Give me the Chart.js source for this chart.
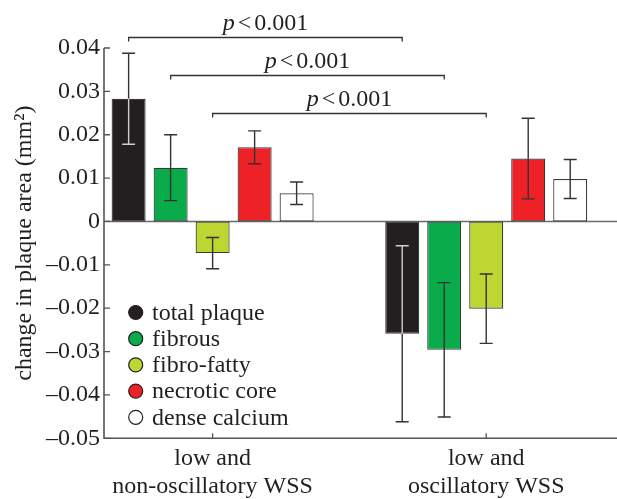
<!DOCTYPE html>
<html>
<head>
<meta charset="utf-8">
<script src="https://cdn.jsdelivr.net/npm/chart.js@4/dist/chart.umd.min.js"></script>
<style>
html,body{margin:0;padding:0;background:#fff;}
#wrap{width:617px;height:499px;position:relative;}
</style>
</head>
<body>
<div id="wrap"><canvas id="c"></canvas></div>
<script>
// ---- data ----
const categories = [['low and', 'non-oscillatory WSS'], ['low and', 'oscillatory WSS']];
const seriesNames = ['total plaque', 'fibrous', 'fibro-fatty', 'necrotic core', 'dense calcium'];
const totalPlaque = [0.0283, -0.0259];
const totalPlaqueErr = [0.0105, 0.0203];
const fibrous = [0.0124, -0.0296];
const fibrousErr = [0.0076, 0.0155];
const fibroFatty = [-0.0073, -0.0201];
const fibroFattyErr = [0.0036, 0.0080];
const necroticCore = [0.0171, 0.0145];
const necroticCoreErr = [0.0038, 0.0093];
const denseCalcium = [0.0065, 0.0098];
const denseCalciumErr = [0.0026, 0.0045];
const yMin = -0.05, yMax = 0.04, yStep = 0.01;
const comparisonSeries = [0, 1, 2];
const comparisonLabels = ['0.001', '0.001', '0.001'];

// ---- styles ----
const colors = ['#231f20', '#0aab4b', '#bdd631', '#ed2126', '#ffffff'];
const values = [totalPlaque, fibrous, fibroFatty, necroticCore, denseCalcium];
const errors = [totalPlaqueErr, fibrousErr, fibroFattyErr, necroticCoreErr, denseCalciumErr];
const FONT = '"Liberation Serif", "Times New Roman", serif';
const INK = '#231f20';
const bracketLevels = [0.0425, 0.0338, 0.0251];

const datasets = seriesNames.map((name, i) => ({
  label: name,
  data: values[i].map((v, j) => ({x: j, y: v})),
  backgroundColor: colors[i],
  borderColor: '#3a3a3a',
  borderWidth: 1.2,
  borderSkipped: false,
  categoryPercentage: 0.7675,
  barPercentage: 0.81
}));

const custom = {
  id: 'custom',
  beforeDatasetsDraw(chart) {
    const {ctx, chartArea: a, scales: {y}} = chart;
    ctx.save();
    ctx.strokeStyle = '#6b6b6b';
    ctx.lineWidth = 1.6;
    const y0 = y.getPixelForValue(0);
    ctx.beginPath(); ctx.moveTo(a.left, y0); ctx.lineTo(a.right, y0); ctx.stroke();
    ctx.restore();
  },
  afterDatasetsDraw(chart) {
    const {ctx, chartArea: a, scales: {x, y}} = chart;
    ctx.save();
    // error bars
    chart.data.datasets.forEach((ds, i) => {
      const meta = chart.getDatasetMeta(i);
      meta.data.forEach((el, j) => {
        const v = values[i][j], e = errors[i][j];
        const cx = el.x;
        const pHi = y.getPixelForValue(v + e), pLo = y.getPixelForValue(v - e), pV = y.getPixelForValue(v);
        const outer = v >= 0 ? pHi : pLo;
        const inner = v >= 0 ? pLo : pHi;
        const innerColor = i === 0 ? '#cfcfcf' : '#333';
        ctx.lineWidth = 1.4;
        ctx.strokeStyle = '#333';
        ctx.beginPath(); ctx.moveTo(cx, pV); ctx.lineTo(cx, outer);
        ctx.moveTo(cx - 6.5, outer); ctx.lineTo(cx + 6.5, outer); ctx.stroke();
        ctx.strokeStyle = innerColor;
        ctx.beginPath(); ctx.moveTo(cx, pV); ctx.lineTo(cx, inner);
        ctx.moveTo(cx - 6.5, inner); ctx.lineTo(cx + 6.5, inner); ctx.stroke();
      });
    });
    // axes
    ctx.strokeStyle = '#555';
    ctx.lineWidth = 1.6;
    ctx.beginPath();
    ctx.moveTo(a.left, a.top); ctx.lineTo(a.left, a.bottom); ctx.lineTo(a.right, a.bottom);
    ctx.stroke();
    ctx.lineWidth = 1.3;
    ctx.beginPath();
    y.ticks.forEach(t => {
      const py = y.getPixelForValue(t.value);
      ctx.moveTo(a.left, py); ctx.lineTo(a.left + 6, py);
    });
    x.ticks.forEach(t => {
      const px = x.getPixelForValue(t.value);
      ctx.moveTo(px, a.bottom); ctx.lineTo(px, a.bottom - 5);
    });
    ctx.stroke();
    // legend
    ctx.textBaseline = 'middle';
    ctx.textAlign = 'left';
    ctx.font = '24px ' + FONT;
    chart.data.datasets.forEach((ds, i) => {
      const cy = 312.5 + i * 26.2;
      ctx.beginPath();
      ctx.arc(135.7, cy, 7, 0, Math.PI * 2);
      ctx.fillStyle = ds.backgroundColor; ctx.fill();
      ctx.strokeStyle = '#222'; ctx.lineWidth = 1.2; ctx.stroke();
      ctx.fillStyle = INK;
      ctx.fillText(ds.label, 152, cy + 1);
    });
    // significance brackets
    comparisonSeries.forEach((s, k) => {
      const meta = chart.getDatasetMeta(s);
      const x1 = meta.data[0].x, x2 = meta.data[1].x;
      const by = Math.round(y.getPixelForValue(bracketLevels[k])) + 0.5;
      ctx.strokeStyle = '#333'; ctx.lineWidth = 1.3;
      ctx.beginPath();
      ctx.moveTo(x1, by + 4); ctx.lineTo(x1, by); ctx.lineTo(x2, by); ctx.lineTo(x2, by + 4);
      ctx.stroke();
      ctx.textBaseline = 'alphabetic';
      ctx.fillStyle = INK;
      const fi = 'italic 24px ' + FONT, fr = '24px ' + FONT;
      ctx.font = fi; const wp = ctx.measureText('p').width;
      ctx.font = fr; const wl = ctx.measureText('<').width; const wn = ctx.measureText(comparisonLabels[k]).width;
      const gap = 3;
      const total = wp + gap + wl + gap + wn;
      let tx = (x1 + x2) / 2 - total / 2;
      const ty = by - 7.5;
      ctx.font = fi; ctx.fillText('p', tx, ty); tx += wp + gap;
      ctx.font = fr; ctx.fillText('<', tx, ty); tx += wl + gap;
      ctx.fillText(comparisonLabels[k], tx, ty);
    });
    ctx.restore();
  }
};

new Chart(document.getElementById('c'), {
  type: 'bar',
  data: {datasets},
  options: {
    responsive: true,
    maintainAspectRatio: false,
    animation: false,
    layout: {padding: {top: 48, right: 0, bottom: 0, left: 0}},
    plugins: {legend: {display: false}, tooltip: {enabled: false}},
    scales: {
      x: {
        type: 'linear',
        offset: false,
        min: -0.397, max: 1.478,
        afterBuildTicks: s => { s.ticks = categories.map((c, i) => ({value: i})); },
        afterFit: s => { s.height = 60.7; },
        grid: {display: false, drawTicks: false, offset: false},
        border: {display: false},
        ticks: {
          callback: v => categories[v],
          padding: 6,
          color: INK,
          font: {family: FONT, size: 24, lineHeight: 1.17},
          maxRotation: 0, autoSkip: false
        }
      },
      y: {
        min: yMin, max: yMax,
        afterFit: s => { s.width = 104; },
        grid: {display: false, drawTicks: false},
        border: {display: false},
        ticks: {
          stepSize: yStep,
          padding: 4,
          color: INK,
          font: {family: FONT, size: 24},
          callback: v => Math.abs(v) < 1e-9 ? '0' : (v < 0 ? '\u2013' : '') + Math.abs(v).toFixed(2)
        },
        title: {
          display: true,
          text: 'change in plaque area (mm\u00B2)',
          color: INK,
          font: {family: FONT, size: 24},
          padding: {top: 10, bottom: 0}
        }
      }
    }
  },
  plugins: [custom]
});
</script>
</body>
</html>
